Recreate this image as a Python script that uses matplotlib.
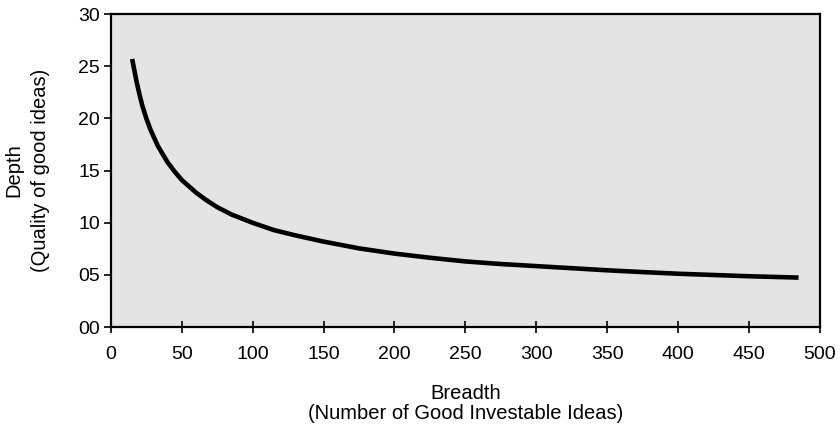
import matplotlib
matplotlib.use('Agg')
import matplotlib.pyplot as plt

plt.rcParams['font.family'] = ['Liberation Sans', 'DejaVu Sans']

# breadth vs depth
breadth = [15, 16, 18, 20, 22, 25, 28, 30, 33, 36, 40, 45, 50, 55, 60, 67,
           75, 85, 100, 115, 130, 150, 175, 200, 225, 250, 275, 300, 325, 350,
           375, 400, 425, 450, 485]
depth = [25.7, 25.0, 23.6, 22.4, 21.3, 20.0, 18.9, 18.3, 17.4, 16.7,
         15.8, 14.9, 14.1, 13.5, 12.9, 12.2, 11.5, 10.8, 10.0, 9.3, 8.8, 8.2,
         7.55, 7.05, 6.65, 6.3, 6.05, 5.85, 5.65, 5.45, 5.28, 5.12, 5.0, 4.88,
         4.75]

xticks = [0, 50, 100, 150, 200, 250, 300, 350, 400, 450, 500]
yticks = [0, 5, 10, 15, 20, 25, 30]
ytick_labels = ['00', '05', '10', '15', '20', '25', '30']

fig = plt.figure(figsize=(8.4, 4.26), dpi=100)
ax = fig.add_axes([0.132, 0.232, 0.844, 0.735])
ax.set_facecolor('#e4e4e4')

ax.plot(breadth, depth, color='black', linewidth=3.3,
        solid_capstyle='butt', solid_joinstyle='round')

ax.set_xlim(0, 500)
ax.set_ylim(0, 30)
ax.set_xticks(xticks)
ax.set_xticklabels([str(t) for t in xticks])
ax.set_yticks(yticks)
ax.set_yticklabels(ytick_labels)

for s in ax.spines.values():
    s.set_linewidth(1.6)
ax.tick_params(axis='x', direction='inout', length=9, width=1.2, pad=9, labelsize=14)
ax.tick_params(axis='y', direction='out', length=5, width=1.2, pad=3, labelsize=14)

ax.set_xlabel('Breadth\n(Number of Good Investable Ideas)', fontsize=14.5, labelpad=15,
              linespacing=1.1)
ax.set_ylabel('Depth\n(Quality of good ideas)', fontsize=14.5, labelpad=20,
              linespacing=1.5)

plt.savefig('out.png', dpi=100)
